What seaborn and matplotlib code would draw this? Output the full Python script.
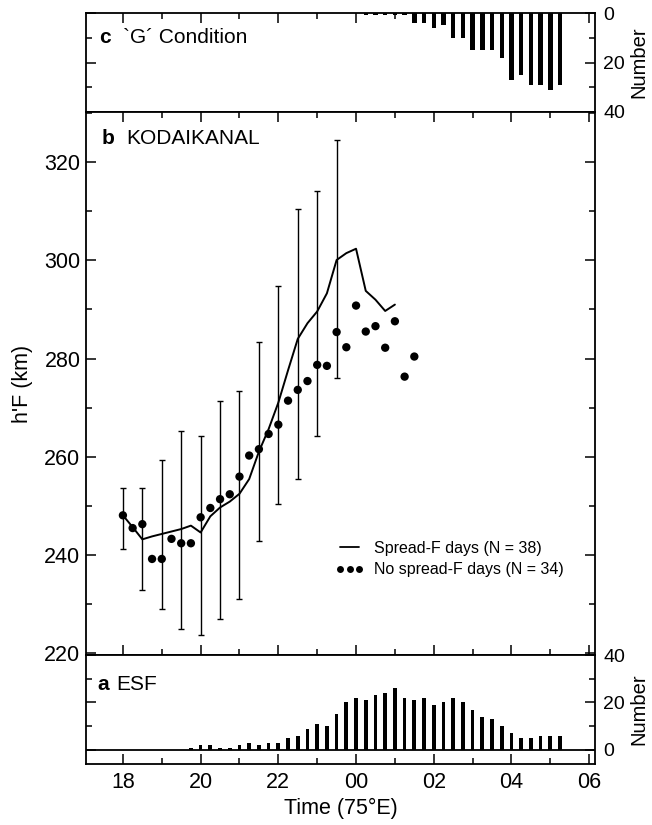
import matplotlib
matplotlib.use("Agg")
import numpy as np
import pandas as pd
import matplotlib.pyplot as plt
import seaborn as sns
from matplotlib.lines import Line2D
from matplotlib.ticker import FixedLocator, FixedFormatter

# ---------------- data ----------------
tick_hours = [18, 20, 22, 24, 26, 28, 30]
tick_labels = ["18", "20", "22", "00", "02", "04", "06"]
minor_hours = [19, 21, 23, 25, 27, 29]

# (a) ESF occurrence counts, 15-min bins
esf_time = [19.75, 20.0, 20.25, 20.5, 20.75, 21.0, 21.25, 21.5, 21.75, 22.0,
            22.25, 22.5, 22.75, 23.0, 23.25, 23.5, 23.75, 24.0, 24.25, 24.5,
            24.75, 25.0, 25.25, 25.5, 25.75, 26.0, 26.25, 26.5, 26.75, 27.0,
            27.25, 27.5, 27.75, 28.0, 28.25, 28.5, 28.75, 29.0, 29.25]
esf_count = [1, 2, 2, 1, 1, 2, 3, 2, 3, 3,
             5, 6, 9, 11, 10, 15, 20, 22, 21, 23,
             24, 26, 22, 21, 22, 19, 20, 22, 20, 17,
             14, 13, 10, 7, 5, 5, 6, 6, 6]

# (c) 'G' condition counts
g_time = [24.25, 24.5, 24.75, 25.0, 25.25, 25.5, 25.75, 26.0, 26.25, 26.5,
          26.75, 27.0, 27.25, 27.5, 27.75, 28.0, 28.25, 28.5, 28.75, 29.0, 29.25]
g_count = [1, 1, 1, 1, 1, 4, 4, 6, 5, 10,
           10, 15, 15, 15, 18, 27, 25, 29, 29, 31, 29]

# (b) h'F, spread-F days (mean curve)
sf_time = [18.0, 18.25, 18.5, 18.75, 19.0, 19.25, 19.5, 19.75, 20.0, 20.25,
           20.5, 20.75, 21.0, 21.25, 21.5, 21.75, 22.0, 22.25, 22.5, 22.75,
           23.0, 23.25, 23.5, 23.75, 24.0, 24.25, 24.5, 24.75, 25.0]
sf_hf = [248.0, 245.6, 243.1, 243.7, 244.2, 244.7, 245.2, 245.9, 244.5, 247.8,
         249.6, 250.8, 252.4, 255.4, 261.0, 265.6, 271.0, 277.6, 284.0, 287.2,
         289.6, 293.3, 300.1, 301.5, 302.4, 293.8, 292.0, 289.7, 291.0]

# (b) h'F, no spread-F days
nosf_time = [18.0, 18.25, 18.5, 18.75, 19.0, 19.25, 19.5, 19.75, 20.0, 20.25,
             20.5, 20.75, 21.0, 21.25, 21.5, 21.75, 22.0, 22.25, 22.5, 22.75,
             23.0, 23.25, 23.5, 23.75, 24.0, 24.25, 24.5, 24.75, 25.0, 25.25, 25.5]
nosf_hf = [248.0, 245.4, 246.2, 239.1, 239.1, 243.2, 242.3, 242.3, 247.6, 249.5,
           251.3, 252.3, 255.9, 260.2, 261.5, 264.6, 266.5, 271.4, 273.6, 275.4,
           278.7, 278.5, 285.4, 282.3, 290.8, 285.5, 286.6, 282.2, 287.6, 276.3, 280.4]

# (b) error bars (spread-F days)
err_time = [18.0, 18.5, 19.0, 19.5, 20.0, 20.5, 21.0, 21.5, 22.0, 22.5, 23.0, 23.5]
err_low = [241.2, 232.8, 228.9, 224.8, 223.6, 226.8, 231.0, 242.8, 250.3, 255.4, 264.1, 276.1]
err_high = [253.6, 253.6, 259.2, 265.3, 264.1, 271.4, 273.3, 283.4, 294.7, 310.5, 314.2, 324.5]

# ---------------- style ----------------
sns.set_style("ticks")
plt.rcParams['font.family'] = ['Liberation Sans', 'DejaVu Sans']
plt.rcParams['axes.linewidth'] = 1.3
for k in ('text.color', 'axes.labelcolor', 'xtick.color', 'ytick.color', 'axes.edgecolor'):
    plt.rcParams[k] = 'black'
for k in ('xtick.major.width', 'ytick.major.width', 'xtick.minor.width', 'ytick.minor.width'):
    plt.rcParams[k] = 1.1

TICK_FS = 15.5
RTICK_FS = 14
LAB_FS = 15.5
NUM_FS = 14.5
TXT_FS = 15

fig = plt.figure(figsize=(6.52, 8.25), dpi=100)
L, W = 86 / 652, 509 / 652
axc = fig.add_axes([L, 1 - 112 / 825, W, 99 / 825])
axb = fig.add_axes([L, 1 - 655 / 825, W, 543 / 825])
axa = fig.add_axes([L, 1 - 764 / 825, W, 109 / 825])

df_esf = pd.DataFrame({"t": esf_time, "n": esf_count})
df_g = pd.DataFrame({"t": g_time, "n": g_count})
df_sf = pd.DataFrame({"t": sf_time, "h": sf_hf})
df_nosf = pd.DataFrame({"t": nosf_time, "h": nosf_hf})

# panel c
sns.barplot(data=df_g, x="t", y="n", native_scale=True, width=0.46,
            color="black", linewidth=0, errorbar=None, ax=axc)
# panel a
sns.barplot(data=df_esf, x="t", y="n", native_scale=True, width=0.38,
            color="black", linewidth=0, errorbar=None, ax=axa)
axa.axhline(0, color="black", lw=1.3, zorder=3)

# panel b
lo = np.array(err_low)
hi = np.array(err_high)
axb.errorbar(err_time, (lo + hi) / 2, yerr=(hi - lo) / 2, fmt="none",
             ecolor="black", elinewidth=1.0, capsize=2.3, capthick=1.0, zorder=2)
sns.lineplot(data=df_sf, x="t", y="h", color="black", lw=1.4, ax=axb, zorder=3)
sns.scatterplot(data=df_nosf, x="t", y="h", color="black", s=36,
                edgecolor="none", ax=axb, zorder=4)

for ax in (axa, axb, axc):
    ax.set_xlim(17.05, 30.15)
    ax.xaxis.set_major_locator(FixedLocator(tick_hours))
    ax.xaxis.set_minor_locator(FixedLocator(minor_hours))
    ax.set_xlabel("")
    ax.set_ylabel("")
    ax.tick_params(which="major", direction="in", length=7, labelsize=TICK_FS)
    ax.tick_params(which="minor", direction="in", length=4)
    for s in ax.spines.values():
        s.set_visible(True)
        s.set_color("black")

# panel c settings
axc.set_ylim(40, 0)
axc.yaxis.set_major_locator(FixedLocator([0, 20, 40]))
axc.yaxis.set_minor_locator(FixedLocator([10, 30]))
axc.tick_params(axis="x", which="both", top=True, bottom=False,
                labelbottom=False, labeltop=False)
axc.tick_params(axis="y", which="both", left=True, right=True,
                labelleft=False, labelright=True, pad=6, labelsize=RTICK_FS)
axc.yaxis.set_label_position("right")
axc.set_ylabel("Number", fontsize=NUM_FS, labelpad=3)
axc.text(0.026, 0.75, "c", weight="bold", fontsize=TXT_FS,
         transform=axc.transAxes, va="center", ha="left")
axc.text(0.072, 0.75, "`G\u00b4 Condition", fontsize=TXT_FS,
         transform=axc.transAxes, va="center", ha="left")

# panel b settings
axb.set_ylim(219.5, 330.3)
axb.yaxis.set_major_locator(FixedLocator([220, 240, 260, 280, 300, 320]))
axb.yaxis.set_minor_locator(FixedLocator([230, 250, 270, 290, 310, 330]))
axb.tick_params(axis="x", which="both", top=True, bottom=True,
                labelbottom=False, labeltop=False)
axb.tick_params(axis="y", which="both", left=True, right=True,
                labelleft=True, labelright=False, pad=4)
axb.set_ylabel("h'F (km)", fontsize=LAB_FS, labelpad=8)
axb.text(0.03, 0.952, "b", weight="bold", fontsize=TXT_FS,
         transform=axb.transAxes, va="center", ha="left")
axb.text(0.079, 0.952, "KODAIKANAL", fontsize=TXT_FS,
         transform=axb.transAxes, va="center", ha="left")

handles = [Line2D([], [], color="black", lw=1.3),
           Line2D([], [], color="black", marker="o", ls="none", ms=5, mec="none")]
axb.legend(handles, ["Spread-F days (N = 38)", "No spread-F days (N = 34)"],
           loc="upper left", bbox_to_anchor=(0.49, 0.21), frameon=False,
           fontsize=11.5, numpoints=3, handlelength=1.8, handletextpad=0.6,
           labelspacing=0.4, borderpad=0, borderaxespad=0)

# panel a settings
axa.set_ylim(-5.9, 40)
axa.yaxis.set_major_locator(FixedLocator([0, 20, 40]))
axa.yaxis.set_minor_locator(FixedLocator([10, 30]))
axa.xaxis.set_major_formatter(FixedFormatter(tick_labels))
axa.tick_params(axis="x", which="both", top=False, bottom=True,
                labelbottom=True, labeltop=False, pad=6)
axa.tick_params(axis="y", which="both", left=True, right=True,
                labelleft=False, labelright=True, pad=6, labelsize=RTICK_FS)
axa.yaxis.set_label_position("right")
axa.set_ylabel("Number", fontsize=NUM_FS, labelpad=3)
axa.set_xlabel("Time (75\u00b0E)", fontsize=LAB_FS, labelpad=3)
axa.text(0.022, 0.73, "a", weight="bold", fontsize=TXT_FS,
         transform=axa.transAxes, va="center", ha="left")
axa.text(0.06, 0.73, "ESF", fontsize=TXT_FS,
         transform=axa.transAxes, va="center", ha="left")

fig.savefig("out.png", dpi=100)
